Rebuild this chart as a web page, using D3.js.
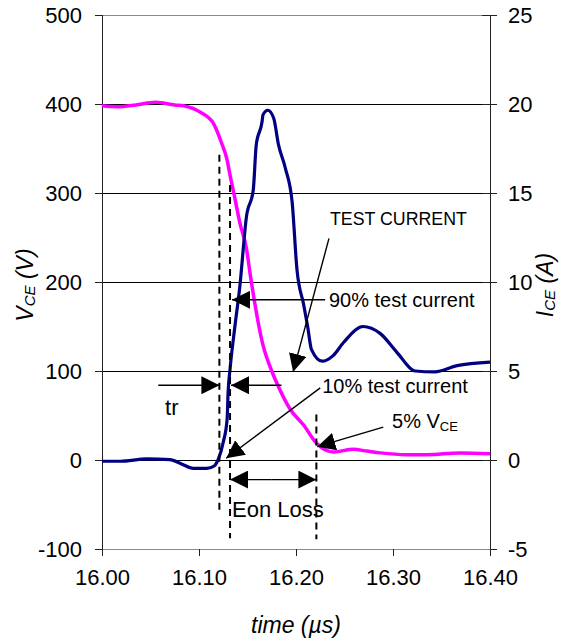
<!DOCTYPE html>
<html>
<head>
<meta charset="utf-8">
<script src="https://cdn.jsdelivr.net/npm/d3@7"></script>
<style>
  body { margin: 0; background: #fff; }
  svg { display: block; font-family: "Liberation Sans", Arial, sans-serif; }
</style>
</head>
<body>
<div id="chart"></div>
<script>
// VCE trace (magenta), time in µs, volts
const timeV = [16.000, 16.016, 16.035, 16.055, 16.075, 16.084, 16.101, 16.115, 16.123, 16.129, 16.132,
  16.137, 16.142, 16.149, 16.153, 16.166, 16.175, 16.180, 16.194, 16.208, 16.221, 16.225, 16.239,
  16.259, 16.273, 16.287, 16.314, 16.335, 16.369, 16.400];
const vce = [398, 397, 399, 402, 399, 398, 391, 378, 357, 337, 320,
  294, 267, 237, 207, 129, 100, 87, 57, 39, 19, 15, 9,
  12, 10, 8, 6, 6, 8, 7];

// ICE trace (navy), time in µs, amps
const timeI = [16.000, 16.019, 16.046, 16.070, 16.082, 16.094, 16.108, 16.116, 16.120, 16.125, 16.129,
  16.130, 16.132, 16.137, 16.142, 16.149, 16.156, 16.159, 16.165, 16.166, 16.171, 16.177, 16.182,
  16.189, 16.196, 16.201, 16.208, 16.212, 16.216, 16.227, 16.238, 16.249, 16.269, 16.287, 16.304,
  16.323, 16.343, 16.366, 16.400];
const ice = [-0.07, -0.07, 0.06, 0.02, -0.22, -0.47, -0.47, -0.32, 0.06, 1.0, 2.3,
  3.8, 5.1, 7.5, 9.7, 13.7, 15.2, 17.7, 19.0, 19.4, 19.65, 19.2, 17.7,
  16.4, 14.5, 10.7, 8.7, 7.5, 6.2, 5.55, 5.85, 6.6, 7.5, 7.1, 6.05,
  5.0, 4.95, 5.3, 5.5];

const xTicks = [16.0, 16.1, 16.2, 16.3, 16.4];
const vTicks = [-100, 0, 100, 200, 300, 400, 500];
const iTicks = [-5, 0, 5, 10, 15, 20, 25];

// annotation marks, in (time, volt) units
const dashed = [
  { t: 16.121, v0: 343, v1: -60 },
  { t: 16.132, v0: 309, v1: -88 },
  { t: 16.221, v0: 51, v1: -89 }
];
const arrows = [
  { t0: 16.058, v0: 84, t1: 16.121, v1: 84 },
  { t0: 16.185, v0: 84, t1: 16.133, v1: 84 },
  { t0: 16.230, v0: 180, t1: 16.134, v1: 180 },
  { t0: 16.234, v0: 249, t1: 16.197, v1: 99 },
  { t0: 16.225, v0: 81, t1: 16.128, v1: 2 },
  { t0: 16.290, v0: 37, t1: 16.222, v1: 15 },
  { t0: 16.175, v0: -22, t1: 16.132, v1: -22 },
  { t0: 16.175, v0: -22, t1: 16.221, v1: -22 }
];
const notes = [
  { t: 16.065, v: 51, text: "tr" },
  { t: 16.234, v: 172, text: "90% test current" },
  { t: 16.227, v: 75, text: "10% test current" },
  { t: 16.134, v: -64, text: "Eon Loss" }
];

const width = 565, height = 643;
const plotL = 102, plotR = 490, plotT = 15, plotB = 549;

const svg = d3.select("#chart").append("svg")
  .attr("width", width)
  .attr("height", height);

const x = d3.scaleLinear().domain([16.0, 16.4]).range([plotL, plotR]);
const yV = d3.scaleLinear().domain([-100, 500]).range([plotB, plotT]);
const yI = d3.scaleLinear().domain([-5, 25]).range([plotB, plotT]);

// arrowhead
svg.append("defs").append("marker")
  .attr("id", "head")
  .attr("markerUnits", "userSpaceOnUse")
  .attr("viewBox", "0 0 18 18")
  .attr("refX", 18).attr("refY", 9)
  .attr("markerWidth", 18).attr("markerHeight", 18)
  .attr("orient", "auto")
  .append("path")
  .attr("d", "M0,0L18,9L0,18Z")
  .attr("fill", "#000");

// gridlines
svg.append("g")
  .attr("shape-rendering", "crispEdges")
  .selectAll("line")
  .data(vTicks)
  .join("line")
  .attr("x1", plotL).attr("x2", plotR)
  .attr("y1", d => Math.round(yV(d)) + 0.5).attr("y2", d => Math.round(yV(d)) + 0.5)
  .attr("stroke", d => (d === 500 || d === -100) ? "#8a8a8a" : "#000")
  .attr("stroke-width", 1);

// left axis
const gl = svg.append("g").attr("transform", `translate(${plotL},0)`)
  .call(d3.axisLeft(yV).tickValues(vTicks).tickSize(7).tickPadding(13).tickFormat(d => String(d)));
// right axis
const gr = svg.append("g").attr("transform", `translate(${plotR},0)`)
  .call(d3.axisRight(yI).tickValues(iTicks).tickSize(7).tickPadding(11).tickFormat(d => String(d)));
gr.selectAll(".tick line").attr("x1", -8);
// bottom axis
const gb = svg.append("g").attr("transform", `translate(0,${plotB})`)
  .call(d3.axisBottom(x).tickValues(xTicks).tickSize(7).tickPadding(13).tickFormat(d3.format(".2f")));

[gl, gr, gb].forEach(g => {
  g.attr("shape-rendering", "crispEdges");
  g.selectAll(".domain").attr("stroke", "#222").attr("stroke-width", 1);
  g.selectAll(".tick line").attr("stroke", "#222");
  g.selectAll("text").attr("font-size", 22).attr("fill", "#000")
    .attr("font-family", "Liberation Sans, Arial, sans-serif");
});
gb.select(".domain").attr("stroke", "#8a8a8a");
gb.selectAll("text").attr("dy", "0.71em");

// traces
svg.append("path")
  .datum(timeV.map((t, i) => [t, vce[i]]))
  .attr("fill", "none")
  .attr("stroke", "#ff00ff")
  .attr("stroke-width", 3.5)
  .attr("stroke-linejoin", "round")
  .attr("d", d3.line().x(d => x(d[0])).y(d => yV(d[1])).curve(d3.curveMonotoneX));

svg.append("path")
  .datum(timeI.map((t, i) => [t, ice[i]]))
  .attr("fill", "none")
  .attr("stroke", "#000080")
  .attr("stroke-width", 3.2)
  .attr("stroke-linejoin", "round")
  .attr("d", d3.line().x(d => x(d[0])).y(d => yI(d[1])).curve(d3.curveMonotoneX));

// annotations
svg.append("g")
  .selectAll("line")
  .data(dashed)
  .join("line")
  .attr("x1", d => x(d.t)).attr("x2", d => x(d.t))
  .attr("y1", d => yV(d.v0)).attr("y2", d => yV(d.v1))
  .attr("stroke", "#000")
  .attr("stroke-width", 2)
  .attr("stroke-dasharray", "7,5");

svg.append("g")
  .selectAll("line")
  .data(arrows)
  .join("line")
  .attr("x1", d => x(d.t0)).attr("y1", d => yV(d.v0))
  .attr("x2", d => x(d.t1)).attr("y2", d => yV(d.v1))
  .attr("stroke", "#000")
  .attr("stroke-width", 1.4)
  .attr("marker-end", "url(#head)");

svg.append("g")
  .selectAll("text")
  .data(notes)
  .join("text")
  .attr("x", d => x(d.t)).attr("y", d => yV(d.v))
  .attr("font-size", d => d.text === "Eon Loss" || d.text === "tr" ? 22 : 20)
  .text(d => d.text);

svg.append("text")
  .attr("x", x(16.235)).attr("y", yV(264))
  .attr("font-size", 19)
  .attr("textLength", 137)
  .attr("lengthAdjust", "spacingAndGlyphs")
  .text("TEST CURRENT");

const five = svg.append("text")
  .attr("x", x(16.299)).attr("y", yV(36))
  .attr("font-size", 20);
five.append("tspan").text("5% V");
five.append("tspan").attr("font-size", 13).attr("dy", 3).text("CE");

// axis titles
svg.append("text")
  .attr("x", 296).attr("y", 633)
  .attr("text-anchor", "middle")
  .attr("font-size", 23)
  .attr("font-style", "italic")
  .text("time (µs)");

const tl = svg.append("text")
  .attr("transform", "translate(33,285) rotate(-90)")
  .attr("text-anchor", "middle")
  .attr("font-size", 23)
  .attr("font-style", "italic");
tl.append("tspan").text("V");
tl.append("tspan").attr("font-size", 15).attr("dy", 2).text("CE");
tl.append("tspan").attr("dy", -2).text(" (V)");

const tr = svg.append("text")
  .attr("transform", "translate(553,285) rotate(-90)")
  .attr("text-anchor", "middle")
  .attr("font-size", 23)
  .attr("font-style", "italic");
tr.append("tspan").text("I");
tr.append("tspan").attr("font-size", 15).attr("dy", 2).text("CE");
tr.append("tspan").attr("dy", -2).text(" (A)");
</script>
</body>
</html>
